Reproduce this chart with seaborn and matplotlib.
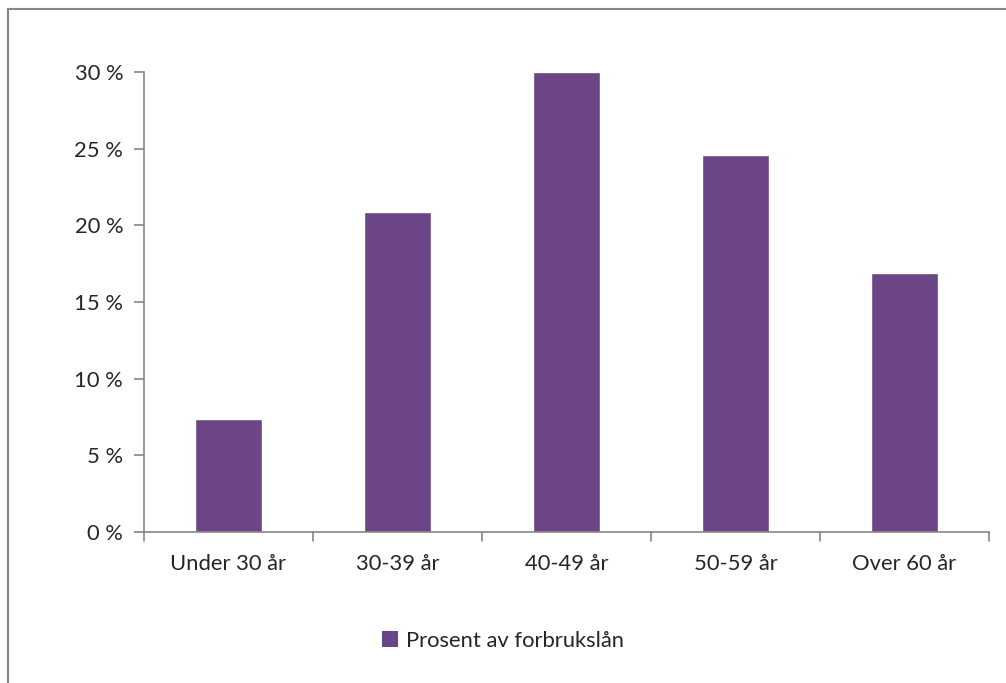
import matplotlib
matplotlib.use("Agg")
import matplotlib.pyplot as plt
import seaborn as sns
import pandas as pd
from matplotlib.lines import Line2D
from matplotlib.patches import Patch

# data
age_groups = ["Under 30 år", "30-39 år", "40-49 år", "50-59 år", "Over 60 år"]
share_pct = [7.4, 20.9, 30.0, 24.6, 16.9]
y_ticks = [0, 5, 10, 15, 20, 25, 30]
series_name = "Prosent av forbrukslån"

df = pd.DataFrame({"group": age_groups, "pct": share_pct})

sns.set_theme(style="white")
plt.rcParams["font.family"] = ["Lato", "DejaVu Sans"]

bar_color = "#6B4586"
axis_gray = "#868686"
fs = 15.8

fig = plt.figure(figsize=(10.06, 6.83), dpi=100)
ax = fig.add_axes([144 / 1006, 1 - 532 / 683, (989 - 144) / 1006, (532 - 72) / 683])

sns.barplot(data=df, x="group", y="pct", color=bar_color, width=0.4,
            saturation=1, ax=ax)

ax.set_ylim(0, 30)
ax.set_xlim(-0.5, len(age_groups) - 0.5)
ax.set_yticks(y_ticks)
ax.set_yticklabels([f"{v} %" for v in y_ticks], fontsize=fs)
ax.set_xlabel("")
ax.set_ylabel("")
ax.tick_params(axis="x", labelsize=fs, length=0, pad=16)
ax.tick_params(axis="y", left=True, length=7, width=1.2, color=axis_gray, pad=8)

# category boundary ticks on the x axis
for b in [i - 0.5 for i in range(len(age_groups) + 1)]:
    ax.plot([b, b], [0, -0.6], color=axis_gray, lw=1.2, clip_on=False)

for side in ["top", "right"]:
    ax.spines[side].set_visible(False)
for side in ["left", "bottom"]:
    ax.spines[side].set_color(axis_gray)
    ax.spines[side].set_linewidth(1.2)

# outer frame of the chart area
fig.add_artist(Line2D([8 / 1006, 8 / 1006], [0, 1 - 9 / 683], color=axis_gray,
                      lw=1.5, transform=fig.transFigure))
fig.add_artist(Line2D([8 / 1006, 1], [1 - 9 / 683, 1 - 9 / 683], color=axis_gray,
                      lw=1.5, transform=fig.transFigure))

handle = Patch(facecolor=bar_color, edgecolor="none")
fig.legend([handle], [series_name], loc="center", bbox_to_anchor=(0.5, 1 - 641 / 683),
           frameon=False, fontsize=fs, handlelength=0.75, handleheight=0.75,
           handletextpad=0.35)

fig.savefig("out.png", dpi=100, facecolor="white")
